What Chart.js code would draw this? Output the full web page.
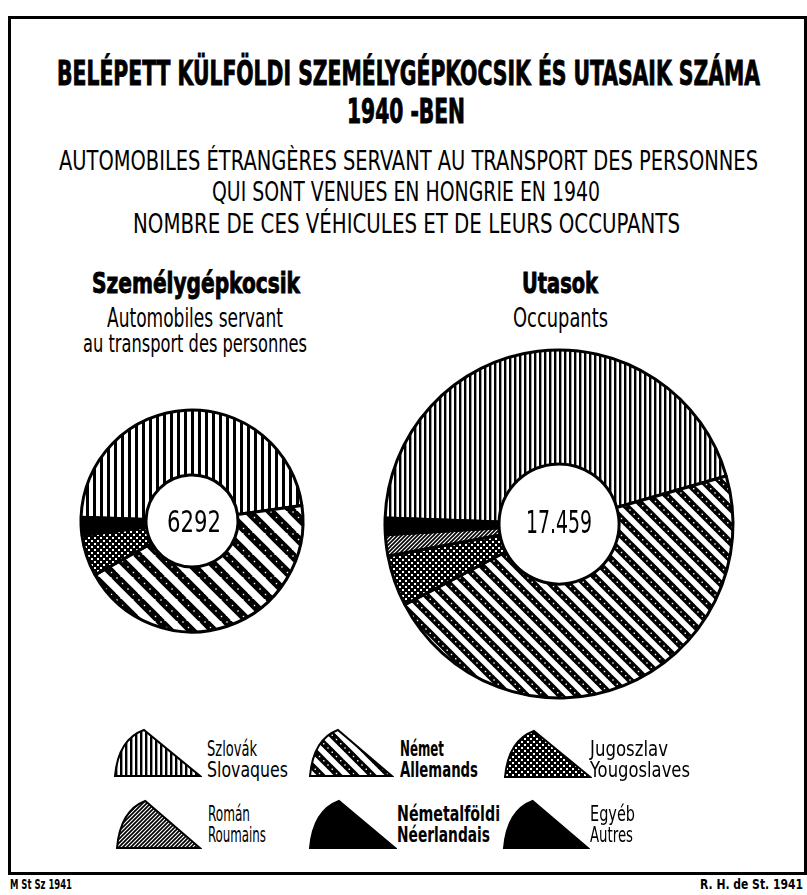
<!DOCTYPE html>
<html><head><meta charset="utf-8">
<script src="https://cdn.jsdelivr.net/npm/chart.js@4.4.0/dist/chart.umd.min.js"></script>
<style>
html,body{margin:0;padding:0;background:#fff;width:807px;height:895px;overflow:hidden}
#page{position:relative;width:807px;height:895px;font-family:"Liberation Sans Narrow","DejaVu Sans Condensed","Liberation Sans",sans-serif;color:#000}
.t{position:absolute;white-space:nowrap;line-height:1;transform-origin:0 0}
.heavy{-webkit-text-stroke:0.9px #000}
#box{position:absolute;left:8px;top:16px;width:793px;height:853px;border:3px solid #000}
canvas{position:absolute}
</style></head><body><div id="page"><div id="box"></div>
<canvas id="c1" width="240" height="240"></canvas>
<canvas id="c2" width="370" height="370"></canvas>
</div>
<script>
// ---- data ----
const categories = ['Szlovák','Német','Jugoszlav','Román','Németalföldi','Egyéb'];
const categoriesFr = ['Slovaques','Allemands','Yougoslaves','Roumains','Néerlandais','Autres'];
const carsValues = [2971, 2779, 376, 0, 90, 76];          // Személygépkocsik (6292)
const occupantValues = [7857, 8167, 824, 344, 150, 117]; // Utasok (17.459)
const carsTotalLabel = '6292';
const occupantTotalLabel = '17.459';

// ---- patterns ----
function tile(w,h,draw){const c=document.createElement('canvas');c.width=w;c.height=h;const x=c.getContext('2d');x.fillStyle='#fff';x.fillRect(0,0,w,h);draw(x,w,h);return c;}
function vertical(p,bw){return tile(p,4,(x,w,h)=>{x.fillStyle='#000';x.fillRect(0,0,bw,h);});}
function diagonal(P,bw){return tile(P,P,(x)=>{x.strokeStyle='#000';x.lineWidth=bw;x.lineCap='butt';
  for(const c of [-P,0,P]){x.beginPath();x.moveTo(c-2,-2);x.lineTo(c+P+2,P+2);x.stroke();}
  x.fillStyle='#fff';const n=4;
  for(const c of [-P,0,P]){for(let i=0;i<n;i++){const t=i*P/n+1;const px=c+t, py=t;x.fillRect(px-0.7,py-0.7,1.4,1.4);}}
});}
function checker(){return tile(6,6,(x)=>{x.fillStyle='#000';x.fillRect(0,0,6,6);x.fillStyle='#fff';x.fillRect(1,1,2,2);x.fillRect(4,4,2,2);});}
function hatch(){return tile(4,4,(x)=>{x.strokeStyle='#000';x.lineWidth=1.7;for(const c of [0,4,8]){x.beginPath();x.moveTo(c+1,-1);x.lineTo(c-5,5);x.stroke();}});}
function fills(ctx,vp,vb,dp,db){return [ctx.createPattern(vertical(vp,vb),'repeat'),ctx.createPattern(diagonal(dp,db),'repeat'),ctx.createPattern(checker(),'repeat'),ctx.createPattern(hatch(),'repeat'),'#000','#000'];}

// ---- doughnuts ----
function doughnut(id,cx,cy,r,inner,values,vp,vb,dp,db){
  const cv=document.getElementById(id);const S=cv.width;
  cv.style.left=(cx-S/2)+'px';cv.style.top=(cy-S/2)+'px';
  const pad=(S-3-2*r)/2;
  const ctx=cv.getContext('2d');
  return new Chart(cv,{type:'doughnut',
    data:{labels:categories,datasets:[{data:values,backgroundColor:fills(ctx,vp,vb,dp,db),borderColor:'#000',borderWidth:3,hoverOffset:0}]},
    options:{responsive:false,animation:false,events:[],rotation:272,cutout:inner,
      layout:{padding:pad},plugins:{legend:{display:false},tooltip:{enabled:false}}}});
}
doughnut('c1',192,521,111,46,carsValues,7,3,22,8);
doughnut('c2',559,524,174,60,occupantValues,5,2.4,17,6.5);

// ---- text ----
const page=document.getElementById('page');
function txt(s,x0,x1,capTop,base,weight,cls){
  const S=(base-capTop)/0.729;
  const d=document.createElement('div');d.className='t'+(cls?' '+cls:'');d.textContent=s;
  d.style.fontSize=S+'px';d.style.fontWeight=weight||'normal';page.appendChild(d);
  const nat=d.getBoundingClientRect().width;
  d.style.left=x0+'px';d.style.top=(capTop-0.117*S)+'px';
  d.style.transform='scaleX('+((x1-x0)/nat)+')';
}
txt('BELÉPETT KÜLFÖLDI SZEMÉLYGÉPKOCSIK ÉS UTASAIK SZÁMA',57,760,60,85,'bold','heavy');
txt('1940 -BEN',347,465,100,124,'bold','heavy');
txt('AUTOMOBILES ÉTRANGÈRES SERVANT AU TRANSPORT DES PERSONNES',59,758,150,170);
txt('QUI SONT VENUES EN HONGRIE EN 1940',212,600,182,201);
txt('NOMBRE DE CES VÉHICULES ET DE LEURS OCCUPANTS',133,680,213,233);
txt('Személygépkocsik',92,300,272,293,'bold','heavy');
txt('Automobiles servant',107,283,308,327);
txt('au transport des personnes',83,307,335,353);
txt('Utasok',522,598,272,293,'bold','heavy');
txt('Occupants',513,608,308,327);
txt(carsTotalLabel,167,221,511,533);
txt(occupantTotalLabel,526,592,511,534);
txt('M St Sz 1941',10,72,880,890,'bold');
txt('R. H. de St. 1941',700,803,880,890,'bold');

// ---- legend ----
const legendPos=[
 {ix:115,iy:730,iw:85,ih:46,tx1:207,tx2:207,ty:741,w1:50,w2:81,b:false},
 {ix:310,iy:730,iw:82,ih:46,tx1:400,tx2:400,ty:741,w1:44,w2:78,b:true},
 {ix:505,iy:731,iw:85,ih:46,tx1:590,tx2:590,ty:741,w1:78,w2:100,b:false},
 {ix:117,iy:801,iw:83,ih:47,tx1:208,tx2:208,ty:806,w1:42,w2:58,b:false},
 {ix:310,iy:801,iw:85,ih:47,tx1:397,tx2:397,ty:806,w1:103,w2:93,b:true},
 {ix:504,iy:801,iw:84,ih:47,tx1:590,tx2:590,ty:806,w1:45,w2:43,b:false}];
const iconFills=[vertical(5,2.4),diagonal(17,6.5),checker(),hatch(),null,null];
legendPos.forEach((p,i)=>{
  const c=document.createElement('canvas');c.width=p.iw+4;c.height=p.ih+4;
  c.style.left=(p.ix-2)+'px';c.style.top=(p.iy-2)+'px';page.appendChild(c);
  const x=c.getContext('2d');x.translate(2,2);
  x.beginPath();x.moveTo(0,p.ih);x.quadraticCurveTo(p.iw*0.04,p.ih*0.2,p.iw*0.34,0);x.lineTo(p.iw,p.ih);x.closePath();
  x.fillStyle=iconFills[i]?x.createPattern(iconFills[i],'repeat'):'#000';x.fill();
  x.lineWidth=2;x.strokeStyle='#000';x.stroke();
  txt(categories[i],p.tx1,p.tx1+p.w1,p.ty,p.ty+15,p.b?'bold':'normal');
  txt(categoriesFr[i],p.tx2,p.tx2+p.w2,p.ty+21,p.ty+36,p.b?'bold':'normal');
});
</script></body></html>
